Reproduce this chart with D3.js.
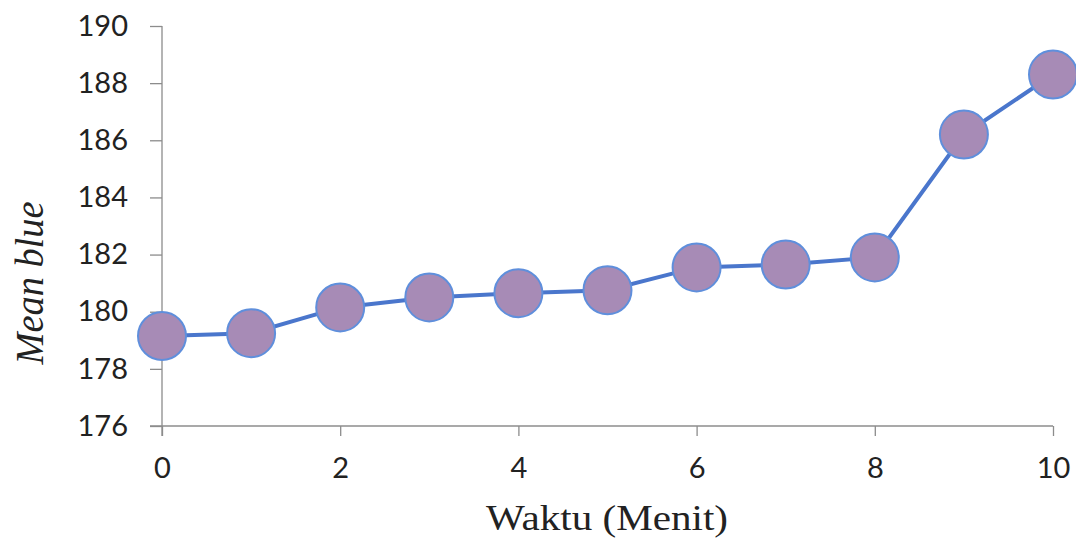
<!DOCTYPE html>
<html>
<head>
<meta charset="utf-8">
<script src="https://cdn.jsdelivr.net/npm/d3@7"></script>
<style>
  body { margin: 0; background: #fff; }
  svg { display: block; }
</style>
</head>
<body>
<div id="chart"></div>
<script>
// data
const minutes = [0, 1, 2, 3, 4, 5, 6, 7, 8, 9, 10];
const meanBlue = [179.15, 179.25, 180.15, 180.5, 180.65, 180.75, 181.55, 181.65, 181.9, 186.2, 188.3];
const yTicks = [176, 178, 180, 182, 184, 186, 188, 190];
const xTicks = [0, 2, 4, 6, 8, 10];

var width = 1076, height = 541;
var margin = {top: 26, right: 23, bottom: 115, left: 162};

var svg = d3.select("#chart")
  .append("svg")
  .attr("width", width)
  .attr("height", height);

var g = svg.append("g")
  .attr("transform", "translate(" + margin.left + "," + margin.top + ")");

var w = width - margin.left - margin.right,
    h = height - margin.top - margin.bottom;

var xScale = d3.scaleLinear().domain([0, 10]).range([0, w]);
var yScale = d3.scaleLinear().domain([176, 190]).range([h, 0]);

// y axis
var yAxis = g.append("g")
  .call(d3.axisLeft(yScale).tickValues(yTicks).tickSize(12).tickPadding(22).tickFormat(d3.format("d")));
yAxis.select(".domain").attr("stroke", "#8c8c8c").attr("stroke-width", 1.3).attr("d", "M0,0V" + (h + 10));
yAxis.selectAll(".tick line").attr("stroke", "#8c8c8c").attr("stroke-width", 1.3);
yAxis.selectAll("text")
  .attr("font-family", "Lato, 'Open Sans', sans-serif")
  .attr("font-size", 29)
  .attr("fill", "#222");

// x axis
var xAxis = g.append("g")
  .attr("transform", "translate(0," + h + ")")
  .call(d3.axisBottom(xScale).tickValues(xTicks).tickSize(10).tickPadding(21).tickFormat(d3.format("d")));
xAxis.select(".domain").attr("stroke", "#8c8c8c").attr("stroke-width", 1.3).attr("d", "M-12,0H" + w);
xAxis.selectAll(".tick line").attr("stroke", "#8c8c8c").attr("stroke-width", 1.3);
xAxis.selectAll("text")
  .attr("font-family", "Lato, 'Open Sans', sans-serif")
  .attr("font-size", 29)
  .attr("fill", "#222");

// line
var line = d3.line()
  .x(function(d, i) { return xScale(minutes[i]); })
  .y(function(d) { return yScale(d); });

g.append("path")
  .datum(meanBlue)
  .attr("d", line)
  .attr("fill", "none")
  .attr("stroke", "#4a76cc")
  .attr("stroke-width", 4);

// markers
g.selectAll(".dot")
  .data(meanBlue)
  .enter().append("circle")
  .attr("class", "dot")
  .attr("cx", function(d, i) { return xScale(minutes[i]); })
  .attr("cy", function(d) { return yScale(d); })
  .attr("r", 24)
  .attr("fill", "#a78bb6")
  .attr("stroke", "#5f8fdc")
  .attr("stroke-width", 2);

// axis titles
svg.append("text")
  .attr("x", 607)
  .attr("y", 530)
  .attr("text-anchor", "middle")
  .attr("font-family", "'Liberation Serif', serif")
  .attr("font-size", 36)
  .attr("textLength", 242)
  .attr("lengthAdjust", "spacingAndGlyphs")
  .attr("fill", "#222")
  .text("Waktu (Menit)");

svg.append("text")
  .attr("transform", "translate(43,283) rotate(-90)")
  .attr("text-anchor", "middle")
  .attr("font-family", "'Liberation Serif', serif")
  .attr("font-style", "italic")
  .attr("font-size", 39)
  .attr("textLength", 163)
  .attr("lengthAdjust", "spacingAndGlyphs")
  .attr("fill", "#222")
  .text("Mean blue");
</script>
</body>
</html>
